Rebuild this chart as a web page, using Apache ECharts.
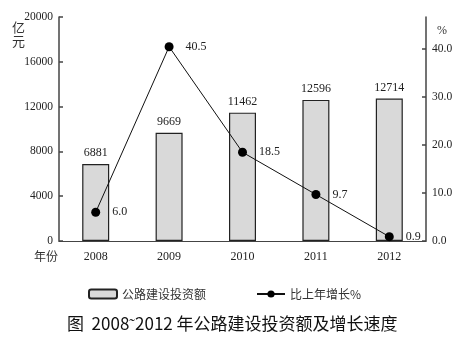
<!DOCTYPE html>
<html><head><meta charset="utf-8">
<script src="https://cdn.jsdelivr.net/npm/echarts@6/dist/echarts.min.js"></script>
<style>html,body{margin:0;padding:0;background:#fff}#c{width:474px;height:354px}</style>
</head><body><div id="c"></div>
<script>
const years = ['2008', '2009', '2010', '2011', '2012'];
const investment = [6881, 9669, 11462, 12596, 12714];
const growth = [6.0, 40.5, 18.5, 9.7, 0.9];
const rightTicks = [0, 10, 20, 30, 40];
const serif = 'Liberation Serif';
const cjk = 'Noto Sans CJK SC';
const chart = echarts.init(document.getElementById('c'));
chart.setOption({
  animation: false,
  backgroundColor: '#fff',
  grid: { left: 59, right: 48, top: 17, bottom: 113 },
  legend: {
    left: 83, top: 283, itemWidth: 28, itemHeight: 9, itemGap: 50,
    textStyle: { fontFamily: cjk, fontSize: 12, color: '#333' },
    data: ['公路建设投资额', '比上年增长%']
  },
  xAxis: {
    type: 'category', data: years,
    axisLine: { lineStyle: { color: '#444', width: 1.2 } },
    axisTick: { show: false },
    axisLabel: { fontFamily: serif, fontSize: 12, color: '#222', margin: 10 }
  },
  yAxis: [{
    type: 'value', min: 0, max: 20000, interval: 4000,
    axisLine: { show: true, lineStyle: { color: '#444', width: 1.5 } },
    axisTick: { show: true, inside: true, length: 4, lineStyle: { color: '#444', width: 1.5 } },
    axisLabel: { fontFamily: serif, fontSize: 11.5, color: '#222', margin: 6, formatter: v => String(v) },
    splitLine: { show: false }
  }, {
    type: 'value', min: 0, max: 46.7, interval: 10,
    axisLine: { show: true, lineStyle: { color: '#444', width: 1.5 } },
    axisTick: { show: true, inside: true, length: 4, customValues: rightTicks, lineStyle: { color: '#444', width: 1.5 } },
    axisLabel: { fontFamily: serif, fontSize: 11.5, color: '#222', margin: 6, customValues: rightTicks,
      formatter: v => v.toFixed(1) },
    splitLine: { show: false }
  }],
  series: [{
    name: '公路建设投资额', type: 'bar', data: investment, barWidth: 27,
    itemStyle: { color: '#d9d9d9', borderColor: '#222', borderWidth: 1.2 },
    label: { show: true, position: 'top', distance: 5, fontFamily: serif, fontSize: 12, color: '#222' }
  }, {
    name: '比上年增长%', type: 'line', yAxisIndex: 1, data: growth,
    symbol: 'circle', symbolSize: 9,
    lineStyle: { color: '#111', width: 1 },
    itemStyle: { color: '#000' },
    label: { show: true, position: 'right', distance: 12, fontFamily: serif, fontSize: 12, color: '#222',
      formatter: p => p.value.toFixed(1) }
  }],
  graphic: [
    { type: 'text', left: 12, top: 20, style: { text: '亿\n元', font: '13px "Noto Sans CJK SC"', fill: '#333', lineHeight: 14 } },
    { type: 'text', left: 437, top: 25, style: { text: '%', font: '12px "Liberation Serif"', fill: '#333' } },
    { type: 'text', left: 34, top: 250, style: { text: '年份', font: '12px "Noto Sans CJK SC"', fill: '#333' } },
    { type: 'text', left: 67, top: 315, style: { text: '图  2008˜2012 年公路建设投资额及增长速度', font: '17px "Noto Sans CJK SC"', fill: '#111' } }
  ]
});
</script></body></html>
